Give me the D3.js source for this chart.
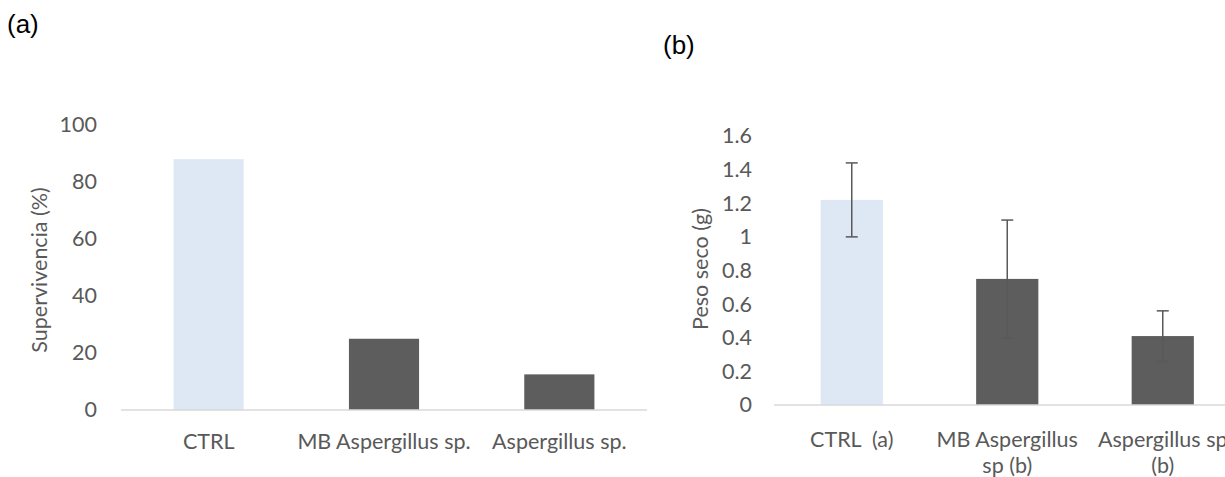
<!DOCTYPE html>
<html>
<head>
<meta charset="utf-8">
<script src="https://cdn.jsdelivr.net/npm/d3@7"></script>
<style>
  body { margin: 0; background: #fff; }
  svg text { font-family: Lato, "Open Sans", sans-serif; fill: #595959; white-space: pre; }
  .panel-label { font-family: "Liberation Sans", Arial, sans-serif; fill: #000; }
</style>
</head>
<body>
<div id="chart"></div>
<script>
const width = 1225;
const height = 477;

// panel (a)
const categoriesA = ['CTRL', 'MB Aspergillus sp.', 'Aspergillus sp.'];
const survival = [88, 25, 12.5];
const ticksA = [0, 20, 40, 60, 80, 100];

// panel (b)
const categoriesB = [['CTRL  (a)'], ['MB Aspergillus', 'sp (b)'], ['Aspergillus sp', '(b)']];
const dryWeight = [1.22, 0.75, 0.41];
const dryWeightErr = [0.22, 0.35, 0.15];
const ticksB = [0, 0.2, 0.4, 0.6, 0.8, 1, 1.2, 1.4, 1.6];

const barColors = ['#dde8f4', '#5d5d5d', '#5d5d5d'];
const fontSize = 21.5;

const svg = d3.select('#chart')
              .append('svg')
              .attr('width', width)
              .attr('height', height);

svg.append('rect').attr('width', width).attr('height', height).attr('fill', '#fff');

// ---------- (a) ----------
const xA = d3.scaleBand()
             .domain(categoriesA)
             .range([121, 647])
             .paddingInner(0.6)
             .paddingOuter(0.3);

const yA = d3.scaleLinear().domain([0, 100]).range([410, 125]);

const gA = svg.append('g');

gA.append('g')
  .attr('transform', 'translate(121,0)')
  .call(d3.axisLeft(yA).tickValues(ticksA).tickSize(0).tickPadding(24))
  .call(g => g.select('.domain').remove())
  .selectAll('text')
  .style('font-size', fontSize + 'px');

gA.selectAll('.bar')
  .data(categoriesA)
  .enter().append('rect')
  .attr('class', 'bar')
  .attr('x', d => xA(d))
  .attr('width', xA.bandwidth())
  .attr('y', (d, i) => yA(survival[i]))
  .attr('height', (d, i) => yA(0) - yA(survival[i]))
  .attr('fill', (d, i) => barColors[i]);

gA.append('line')
  .attr('x1', 121).attr('x2', 647)
  .attr('y1', yA(0)).attr('y2', yA(0))
  .attr('stroke', '#d9d9d9')
  .attr('stroke-width', 1.5);

gA.selectAll('.xlabel')
  .data(categoriesA)
  .enter().append('text')
  .attr('class', 'xlabel')
  .attr('x', d => xA(d) + xA.bandwidth() / 2)
  .attr('y', 449)
  .attr('text-anchor', 'middle')
  .style('font-size', fontSize + 'px')
  .text(d => d);

gA.append('text')
  .attr('transform', 'translate(47,270) rotate(-90)')
  .attr('text-anchor', 'middle')
  .style('font-size', fontSize + 'px')
  .text('Supervivencia (%)');

svg.append('text')
   .attr('class', 'panel-label')
   .attr('x', 7)
   .attr('y', 33)
   .style('font-size', '26px')
   .text('(a)');

// ---------- (b) ----------
const step = 155.5;
const xB = d3.scaleBand()
             .domain(d3.range(categoriesB.length))
             .range([774, 774 + step * categoriesB.length])
             .paddingInner(0.6)
             .paddingOuter(0.3);

const yB = d3.scaleLinear().domain([0, 1.6]).range([405, 136]);

const gB = svg.append('g');

gB.append('g')
  .attr('transform', 'translate(774,0)')
  .call(d3.axisLeft(yB).tickValues(ticksB).tickSize(0).tickPadding(22)
          .tickFormat(d => String(+d.toFixed(1))))
  .call(g => g.select('.domain').remove())
  .selectAll('text')
  .style('font-size', fontSize + 'px');

gB.selectAll('.bar')
  .data(dryWeight)
  .enter().append('rect')
  .attr('class', 'bar')
  .attr('x', (d, i) => xB(i))
  .attr('width', xB.bandwidth())
  .attr('y', d => yB(d))
  .attr('height', d => yB(0) - yB(d))
  .attr('fill', (d, i) => barColors[i]);

gB.append('line')
  .attr('x1', 774).attr('x2', width)
  .attr('y1', yB(0)).attr('y2', yB(0))
  .attr('stroke', '#d9d9d9')
  .attr('stroke-width', 1.5);

const err = gB.selectAll('.err')
              .data(dryWeight)
              .enter().append('g')
              .attr('class', 'err')
              .attr('transform', (d, i) => `translate(${xB(i) + xB.bandwidth() / 2},0)`)
              .attr('stroke', '#595959')
              .attr('stroke-width', 1.5);

err.append('line')
   .attr('y1', (d, i) => yB(d + dryWeightErr[i]))
   .attr('y2', (d, i) => yB(d - dryWeightErr[i]));
err.append('line')
   .attr('x1', -6).attr('x2', 6)
   .attr('y1', (d, i) => yB(d + dryWeightErr[i]))
   .attr('y2', (d, i) => yB(d + dryWeightErr[i]));
err.append('line')
   .attr('x1', -6).attr('x2', 6)
   .attr('y1', (d, i) => yB(d - dryWeightErr[i]))
   .attr('y2', (d, i) => yB(d - dryWeightErr[i]));

gB.selectAll('.xlabel')
  .data(categoriesB)
  .enter().append('text')
  .attr('class', 'xlabel')
  .attr('text-anchor', 'middle')
  .style('font-size', fontSize + 'px')
  .selectAll('tspan')
  .data((d, i) => d.map(line => ({ line, i })))
  .enter().append('tspan')
  .attr('x', d => xB(d.i) + xB.bandwidth() / 2)
  .attr('y', (d, j) => 447 + j * 26)
  .text(d => d.line);

gB.append('text')
  .attr('transform', 'translate(708,269) rotate(-90)')
  .attr('text-anchor', 'middle')
  .style('font-size', fontSize + 'px')
  .text('Peso seco (g)');

svg.append('text')
   .attr('class', 'panel-label')
   .attr('x', 663)
   .attr('y', 54)
   .style('font-size', '26px')
   .text('(b)');
</script>
</body>
</html>
